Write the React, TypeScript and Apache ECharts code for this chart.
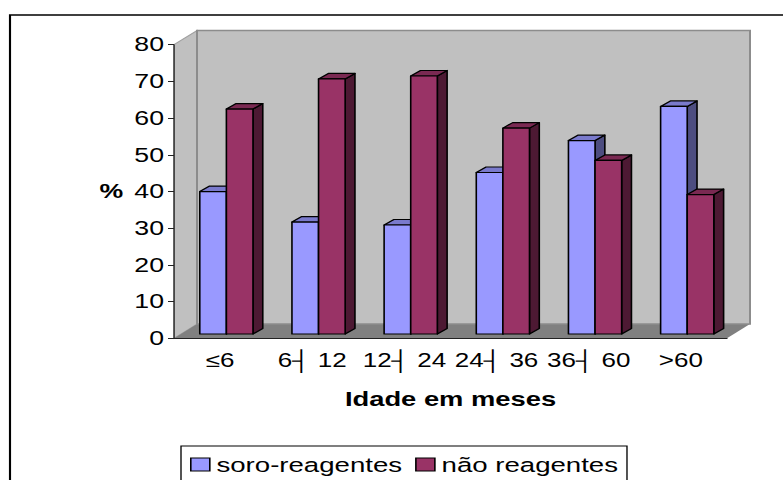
import React, { useEffect, useRef } from "react";
import * as echarts from "echarts";

const categories = ["≤6", "6┤ 12", "12┤ 24", "24┤ 36", "36┤ 60", ">60"];
const soroReagentes = [38.8, 30.5, 29.7, 44, 52.7, 62];
const naoReagentes = [61.3, 69.5, 70.3, 56.1, 47.3, 38];
const yTicks = { min: 0, max: 80, interval: 10 };
const seriesNames = ["soro-reagentes", "não reagentes"];

const W = 587;
const H = 480;
const S = 783 / W;
const px = (v: number) => v / S;
const FONT = '"Liberation Sans", Arial, sans-serif';

const DX = px(23);
const DY = 14.2;

function wallItem(params: any) {
  const c = params.coordSys;
  const l = c.x, r = c.x + c.width, t = c.y, b = c.y + c.height;
  const poly = (points: number[][], fill: string, stroke: string | null, lineWidth = 1.5) => ({
    type: "polygon",
    shape: { points },
    style: { fill, stroke: stroke || undefined, lineWidth },
  });
  return {
    type: "group",
    children: [
      poly([[l, t], [l + DX, t - DY], [l + DX, b - DY], [l, b]], "#C0C0C0", "#A0A0A0", 1),
      poly([[l, b], [l + DX, b - DY], [r + DX, b - DY], [r, b]], "#808080", null),
      poly([[l + DX, t - DY], [r + DX, t - DY], [r + DX, b - DY], [l + DX, b - DY]], "#C0C0C0", "#8C8C8C", 1.5),
    ],
  };
}

function barRenderer(index: number, face: string, top: string, side: string) {
  return (_: any, api: any) => {
    const cat = api.value(0);
    const top0 = api.coord([cat, api.value(1)]);
    const base = api.coord([cat, 0]);
    const bw = px(26.6);
    const x0 = top0[0] + px(-20.3) + index * bw;
    const x1 = x0 + bw;
    const yLift = 4.3;
    const yt = top0[1] - yLift;
    const yb = base[1] - yLift;
    const ox = px(9.8);
    const oy = 5.5;
    const style = (fill: string) => ({ fill, stroke: "#000", lineWidth: 1.2, lineJoin: "round" });
    return {
      type: "group",
      children: [
        { type: "polygon", shape: { points: [[x1, yt], [x1 + ox, yt - oy], [x1 + ox, yb - oy], [x1, yb]] }, style: style(side) },
        { type: "polygon", shape: { points: [[x0, yt], [x0 + ox, yt - oy], [x1 + ox, yt - oy], [x1, yt]] }, style: style(top) },
        { type: "polygon", shape: { points: [[x0, yt], [x1, yt], [x1, yb], [x0, yb]] }, style: style(face) },
      ],
    };
  };
}

export default function App() {
  const ref = useRef<HTMLDivElement>(null);
  useEffect(() => {
    document.body.style.margin = "0";
    document.body.style.overflow = "hidden";
    const chart = echarts.init(ref.current!, undefined, { renderer: "svg" });
    chart.setOption({
      animation: false,
      backgroundColor: "#fff",
      textStyle: { fontFamily: FONT },
      graphic: [
        {
          type: "polyline",
          silent: true,
          shape: { points: [[px(10), 480], [px(10), 15], [W, 15]] },
          style: { fill: "none", stroke: "#000", lineWidth: 1.6 },
        },
      ],
      grid: { left: px(174), top: 44.7, width: px(553), height: 293.6 },
      legend: {
        left: px(181),
        top: 446,
        padding: [8, px(9), 12, px(9)],
        backgroundColor: "#fff",
        borderColor: "#000",
        borderWidth: 1,
        itemWidth: px(19),
        itemHeight: 13,
        itemGap: px(13),
        selectedMode: false,
        icon: "rect",
        textStyle: { fontFamily: FONT, fontSize: 20.7, color: "#000" },
        data: [
          { name: seriesNames[0], itemStyle: { color: "#9999FF", borderColor: "#000", borderWidth: 1.2 } },
          { name: seriesNames[1], itemStyle: { color: "#993366", borderColor: "#000", borderWidth: 1.2 } },
        ],
      },
      xAxis: {
        type: "category",
        data: categories,
        z: 5,
        name: "Idade em meses",
        nameLocation: "middle",
        nameGap: 50,
        nameTextStyle: { fontFamily: FONT, fontWeight: "bold", fontSize: 20.5, color: "#000" },
        axisLine: { lineStyle: { color: "#222", width: 1 } },
        axisTick: { length: 5, alignWithLabel: false, lineStyle: { color: "#222", width: 1 } },
        axisLabel: { interval: 0, margin: 12, fontFamily: FONT, fontSize: 19.5, color: "#000" },
        splitLine: { show: false },
      },
      yAxis: {
        type: "value",
        min: yTicks.min,
        max: yTicks.max,
        interval: yTicks.interval,
        z: 5,
        name: "%",
        nameLocation: "middle",
        nameRotate: 0,
        nameGap: 38,
        nameTextStyle: { fontFamily: FONT, fontWeight: "bold", fontSize: 20, color: "#000", padding: [4, 0, 0, 0] },
        axisLine: { show: true, lineStyle: { color: "#222", width: 1 } },
        axisTick: { show: true, length: px(6), lineStyle: { color: "#222", width: 1 } },
        axisLabel: { margin: px(10), fontFamily: FONT, fontSize: 20, color: "#000" },
        splitLine: { show: false },
      },
      series: [
        { type: "custom", name: "walls", silent: true, z: 1, data: [[0, 0]], encode: { x: 0, y: 1 }, renderItem: wallItem },
        {
          type: "custom",
          name: seriesNames[0],
          silent: true,
          z: 2,
          itemStyle: { color: "#9999FF" },
          encode: { x: 0, y: 1 },
          data: soroReagentes.map((v, i) => [i, v]),
          renderItem: barRenderer(0, "#9999FF", "#7A7ACC", "#4D4D80"),
        },
        {
          type: "custom",
          name: seriesNames[1],
          silent: true,
          z: 3,
          itemStyle: { color: "#993366" },
          encode: { x: 0, y: 1 },
          data: naoReagentes.map((v, i) => [i, v]),
          renderItem: barRenderer(1, "#993366", "#7A2952", "#4D1933"),
        },
      ],
    });
    return () => chart.dispose();
  }, []);
  return (
    <div
      ref={ref}
      style={{
        position: "absolute",
        left: 0,
        top: 0,
        width: W,
        height: H,
        transform: `scaleX(${S})`,
        transformOrigin: "0 0",
      }}
    />
  );
}
